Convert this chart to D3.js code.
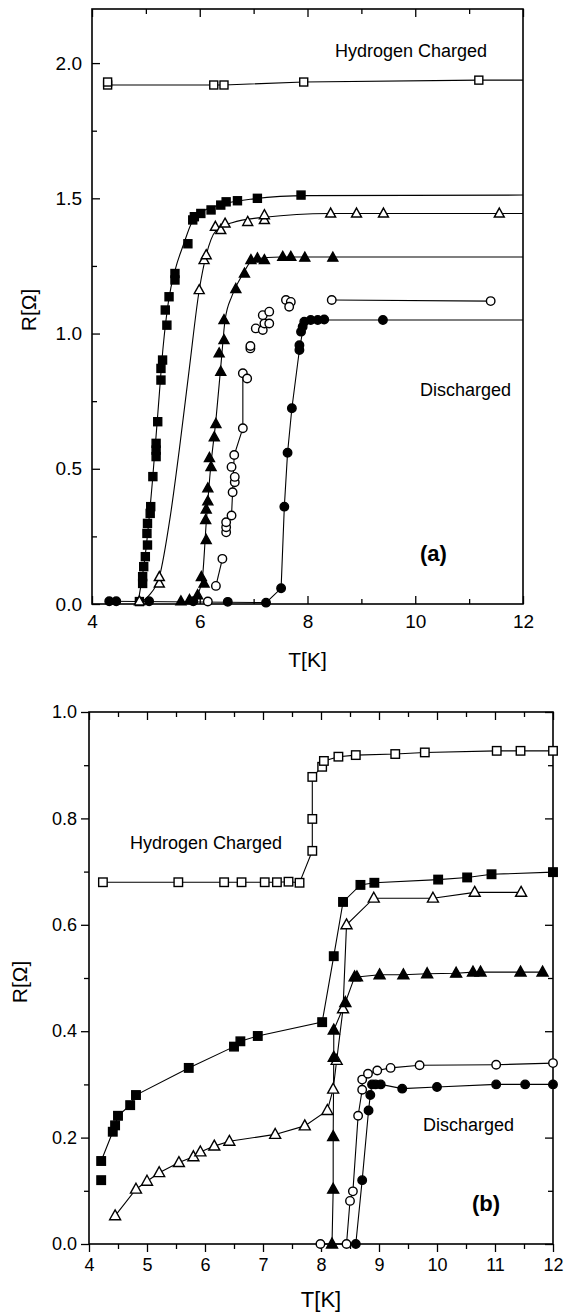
<!DOCTYPE html>
<html><head><meta charset="utf-8">
<script src="https://cdn.jsdelivr.net/npm/d3@7"></script>
<style>body{margin:0;background:#fff} svg{display:block} text{font-family:"Liberation Sans",Arial,sans-serif;fill:#000}</style>
</head><body><svg id="c" width="569" height="1315"></svg>
<script>
// ---------- Panel (a) data: [T (K), R (Ohm)] ----------
const aOpenSquares = [[4.29,1.919],[4.29,1.930],[6.26,1.919],[6.45,1.919],[7.93,1.930],[11.18,1.937]];
const aOpenSquaresLine = [[4.29,1.919],[6.26,1.919],[6.45,1.919],[7.93,1.930],[11.18,1.937],[12,1.937]];
const aFilledSquares = [[4.88,0.009],[4.94,0.076],[4.94,0.101],[4.96,0.138],[4.99,0.175],[5.03,0.218],[5.02,0.261],[5.03,0.298],[5.08,0.335],[5.09,0.360],[5.13,0.471],[5.19,0.545],[5.19,0.569],[5.19,0.594],[5.22,0.674],[5.28,0.828],[5.28,0.871],[5.31,0.902],[5.39,1.031],[5.36,1.087],[5.43,1.136],[5.54,1.198],[5.54,1.222],[5.78,1.332],[5.87,1.420],[5.90,1.432],[6.02,1.444],[6.21,1.457],[6.39,1.475],[6.49,1.487],[6.70,1.491],[7.07,1.500],[7.88,1.512]];
const aFilledSquaresLine = [[4.85,0],[5.0,0.2],[5.12,0.45],[5.22,0.7],[5.32,0.95],[5.42,1.12],[5.55,1.24],[5.7,1.33],[5.85,1.41],[6.0,1.445],[6.4,1.477],[7.0,1.498],[8,1.51],[12,1.512]];
const aOpenTriangles = [[4.88,0.010],[5.25,0.076],[5.25,0.100],[5.99,1.161],[6.08,1.272],[6.12,1.290],[6.29,1.395],[6.39,1.383],[6.47,1.407],[6.89,1.413],[7.20,1.420],[7.20,1.438],[8.43,1.444],[8.91,1.444],[9.41,1.444],[11.56,1.444]];
const aOpenTrianglesLine = [[4.85,0],[5.05,0.03],[5.25,0.1],[5.45,0.32],[5.62,0.57],[5.8,0.86],[5.99,1.16],[6.12,1.29],[6.3,1.38],[6.6,1.41],[7.2,1.43],[8.4,1.444],[12,1.444]];
const aFilledTriangles = [[5.65,0.010],[5.81,0.015],[5.96,0.033],[6.03,0.100],[6.08,0.076],[6.12,0.237],[6.11,0.311],[6.12,0.350],[6.15,0.380],[6.15,0.428],[6.21,0.507],[6.18,0.540],[6.27,0.617],[6.30,0.666],[6.39,0.859],[6.36,0.927],[6.45,0.976],[6.45,1.050],[6.67,1.165],[6.83,1.222],[6.95,1.272],[7.07,1.278],[7.20,1.272],[7.54,1.284],[7.69,1.284],[7.95,1.281],[8.47,1.281]];
const aFilledTrianglesLine = [[5.95,0.03],[6.05,0.1],[6.12,0.3],[6.2,0.5],[6.3,0.68],[6.4,0.9],[6.47,1.05],[6.6,1.14],[6.8,1.22],[7.0,1.275],[7.5,1.283],[12,1.283]];
const aOpenCircles = [[6.15,0.009],[6.30,0.067],[6.42,0.167],[6.49,0.265],[6.49,0.284],[6.49,0.302],[6.59,0.327],[6.61,0.413],[6.65,0.450],[6.65,0.470],[6.59,0.507],[6.64,0.551],[6.80,0.650],[6.80,0.853],[6.88,0.834],[6.94,0.945],[6.94,0.954],[7.04,1.019],[7.17,1.013],[7.20,1.037],[7.29,1.037],[7.17,1.068],[7.29,1.081],[7.60,1.124],[7.69,1.117],[7.66,1.099],[8.45,1.124],[11.40,1.120]];
const aOpenCirclesLine1 = [[6.30,0.067],[6.42,0.167]];
const aOpenCirclesLine2 = [[6.59,0.327],[6.64,0.551],[6.80,0.650],[6.80,0.853]];
const aOpenCirclesLine3 = [[8.45,1.124],[11.40,1.120]];
const aFilledCircles = [[4.32,0.010],[4.45,0.010],[5.06,0.010],[5.88,0.010],[6.52,0.008],[7.23,0.005],[7.51,0.058],[7.57,0.360],[7.63,0.559],[7.71,0.724],[7.85,0.939],[7.85,0.957],[7.88,1.007],[7.91,1.025],[7.94,1.044],[8.06,1.050],[8.19,1.050],[8.31,1.052],[9.40,1.050]];
const aFilledCirclesLine = [[4.32,0.01],[7.23,0.005],[7.51,0.058],[7.57,0.36],[7.63,0.559],[7.71,0.724],[7.85,0.94],[7.94,1.044],[8.1,1.05],[9.4,1.05],[12,1.05]];

// ---------- Panel (b) data ----------
const bOpenSquares = [[4.24,0.680],[5.54,0.680],[6.33,0.680],[6.63,0.680],[7.03,0.680],[7.24,0.680],[7.44,0.681],[7.63,0.679],[7.85,0.739],[7.85,0.799],[7.85,0.878],[8.02,0.897],[8.05,0.908],[8.30,0.916],[8.60,0.919],[9.28,0.921],[9.79,0.924],[11.03,0.927],[11.44,0.927],[12.0,0.927]];
const bFilledSquares = [[4.21,0.156],[4.41,0.211],[4.45,0.223],[4.50,0.241],[4.71,0.261],[4.81,0.280],[5.72,0.331],[6.50,0.371],[6.61,0.381],[6.91,0.391],[8.02,0.417],[8.22,0.541],[8.38,0.643],[8.68,0.675],[8.92,0.679],[10.02,0.685],[10.52,0.689],[10.94,0.695],[12.0,0.699]];
const bFilledSquaresLoose = [[4.21,0.120]];
const bOpenTriangles = [[4.45,0.053],[4.81,0.103],[5.00,0.118],[5.21,0.134],[5.55,0.153],[5.80,0.164],[5.92,0.173],[6.16,0.184],[6.42,0.193],[7.21,0.206],[7.72,0.222],[8.11,0.251],[8.21,0.291],[8.27,0.345],[8.38,0.442],[8.44,0.600],[8.91,0.650],[9.93,0.650],[10.65,0.661],[11.45,0.661]];
const bFilledTriangles = [[8.19,0.000],[8.21,0.103],[8.21,0.202],[8.22,0.351],[8.22,0.402],[8.42,0.454],[8.58,0.502],[8.62,0.502],[9.01,0.506],[9.42,0.506],[9.83,0.508],[10.33,0.509],[10.62,0.511],[10.75,0.511],[11.44,0.511],[11.82,0.511]];
const bOpenCircles = [[7.99,0.000],[8.44,0.000],[8.50,0.081],[8.55,0.099],[8.64,0.241],[8.71,0.290],[8.71,0.309],[8.81,0.320],[8.97,0.326],[9.20,0.331],[9.70,0.336],[11.02,0.337],[12.0,0.340]];
const bFilledCircles = [[8.60,0.000],[8.71,0.120],[8.82,0.251],[8.85,0.280],[8.88,0.300],[8.94,0.300],[9.03,0.300],[9.40,0.292],[10.00,0.295],[11.02,0.300],[11.52,0.300],[12.0,0.300]];

// ---------- ticks ----------
const aXMajor = [4,6,8,10,12], aXMinor = [5,7,9,11];
const aYMajor = [0,0.5,1.0,1.5,2.0], aYMinor = [0.25,0.75,1.25,1.75];
const bXMajor = [4,5,6,7,8,9,10,11,12], bXMinor = [4.5,5.5,6.5,7.5,8.5,9.5,10.5,11.5];
const bYMajor = [0,0.2,0.4,0.6,0.8,1.0], bYMinor = [0.1,0.3,0.5,0.7,0.9];

const svg = d3.select("#c");

function drawMarkers(g, pts, type, filled, x, y, s) {
  const fill = filled ? "#000" : "#fff";
  const sel = g.append("g").selectAll("path").data(pts).enter();
  if (type === "square") {
    sel.append("rect").attr("x", d => x(d[0]) - s/2).attr("y", d => y(d[1]) - s/2)
      .attr("width", s).attr("height", s).attr("fill", fill).attr("stroke", "#000").attr("stroke-width", 1.4);
  } else if (type === "circle") {
    sel.append("circle").attr("cx", d => x(d[0])).attr("cy", d => y(d[1])).attr("r", s/2)
      .attr("fill", fill).attr("stroke", "#000").attr("stroke-width", 1.4);
  } else {
    const h = s * 0.9;
    sel.append("path").attr("d", d => {
      const cx = x(d[0]), cy = y(d[1]);
      return `M${cx},${cy - h*0.6}L${cx + s/2},${cy + h*0.4}L${cx - s/2},${cy + h*0.4}Z`;
    }).attr("fill", fill).attr("stroke", "#000").attr("stroke-width", 1.4).attr("stroke-linejoin", "miter");
  }
}
function drawLine(g, pts, x, y, curve) {
  g.append("path").datum(pts)
    .attr("d", d3.line().x(d => x(d[0])).y(d => y(d[1])).curve(curve || d3.curveLinear))
    .attr("fill", "none").attr("stroke", "#000").attr("stroke-width", 1.1);
}
function styleAxis(g, size) {
  g.select(".domain").remove();
  g.selectAll("line").attr("stroke", "#000").attr("stroke-width", 1.3);
  g.selectAll("text").attr("font-family", '"Liberation Sans",Arial,sans-serif').attr("font-size", size).attr("fill", "#000");
  g.attr("font-family", null).attr("font-size", null);
}

// ===================== Panel (a) =====================
{
  const x = d3.scaleLinear([4, 12], [92, 523]);
  const y = d3.scaleLinear([0, 2.2], [604, 9]);
  const g = svg.append("g");
  const fs = 19;
  const gb = g.append("g").attr("transform", `translate(0,${y(0)})`);
  gb.call(d3.axisBottom(x).tickValues(aXMajor).tickSizeInner(-8).tickSizeOuter(0).tickPadding(11).tickFormat(d3.format("d")));
  styleAxis(gb, fs);
  const gbm = g.append("g").attr("transform", `translate(0,${y(0)})`);
  gbm.call(d3.axisBottom(x).tickValues(aXMinor).tickSizeInner(-5).tickSizeOuter(0).tickFormat(""));
  styleAxis(gbm, fs);
  const gt = g.append("g").attr("transform", `translate(0,${y(2.2)})`);
  gt.call(d3.axisTop(x).tickValues(aXMajor).tickSizeInner(-8).tickSizeOuter(0).tickFormat(""));
  styleAxis(gt, fs);
  const gtm = g.append("g").attr("transform", `translate(0,${y(2.2)})`);
  gtm.call(d3.axisTop(x).tickValues(aXMinor).tickSizeInner(-5).tickSizeOuter(0).tickFormat(""));
  styleAxis(gtm, fs);
  const gl = g.append("g").attr("transform", `translate(${x(4)},0)`);
  gl.call(d3.axisLeft(y).tickValues(aYMajor).tickSizeInner(-8).tickSizeOuter(0).tickPadding(10).tickFormat(d3.format(".1f")));
  styleAxis(gl, fs);
  const glm = g.append("g").attr("transform", `translate(${x(4)},0)`);
  glm.call(d3.axisLeft(y).tickValues(aYMinor).tickSizeInner(-5).tickSizeOuter(0).tickFormat(""));
  styleAxis(glm, fs);
  g.append("rect").attr("x", x(4)).attr("y", y(2.2)).attr("width", x(12) - x(4)).attr("height", y(0) - y(2.2))
    .attr("fill", "none").attr("stroke", "#000").attr("stroke-width", 1.6);

  drawLine(g, aOpenSquaresLine, x, y);
  drawLine(g, aFilledSquaresLine, x, y, d3.curveMonotoneX);
  drawLine(g, aOpenTrianglesLine, x, y, d3.curveMonotoneX);
  drawLine(g, aFilledTrianglesLine, x, y, d3.curveMonotoneX);
  drawLine(g, aOpenCirclesLine1, x, y);
  drawLine(g, aOpenCirclesLine2, x, y);
  drawLine(g, aOpenCirclesLine3, x, y);
  drawLine(g, aFilledCirclesLine, x, y);

  drawMarkers(g, aOpenSquares, "square", false, x, y, 8);
  drawMarkers(g, aFilledSquares, "square", true, x, y, 8);
  drawMarkers(g, aOpenTriangles, "triangle", false, x, y, 10);
  drawMarkers(g, aFilledTriangles, "triangle", true, x, y, 10);
  drawMarkers(g, aOpenCircles, "circle", false, x, y, 8.5);
  drawMarkers(g, aFilledCircles, "circle", true, x, y, 8.5);

  g.append("text").attr("x", 335).attr("y", 57).attr("font-size", 18).text("Hydrogen Charged");
  g.append("text").attr("x", 420).attr("y", 396).attr("font-size", 18).text("Discharged");
  g.append("text").attr("x", 420).attr("y", 561).attr("font-size", 22).attr("font-weight", "bold").text("(a)");
  g.append("text").attr("x", (x(4) + x(12)) / 2).attr("y", 667).attr("font-size", 21).attr("text-anchor", "middle").text("T[K]");
  g.append("text").attr("transform", "translate(36,310) rotate(-90)").attr("font-size", 21).attr("text-anchor", "middle").text("R[Ω]");
}

// ===================== Panel (b) =====================
{
  const x = d3.scaleLinear([4, 12], [89, 553]);
  const y = d3.scaleLinear([0, 1], [1244, 712]);
  const g = svg.append("g");
  const fs = 18;
  const gb = g.append("g").attr("transform", `translate(0,${y(0)})`);
  gb.call(d3.axisBottom(x).tickValues(bXMajor).tickSizeInner(8).tickSizeOuter(0).tickPadding(6).tickFormat(d3.format("d")));
  styleAxis(gb, fs);
  const gbm = g.append("g").attr("transform", `translate(0,${y(0)})`);
  gbm.call(d3.axisBottom(x).tickValues(bXMinor).tickSizeInner(5).tickSizeOuter(0).tickFormat(""));
  styleAxis(gbm, fs);
  const gt = g.append("g").attr("transform", `translate(0,${y(1)})`);
  gt.call(d3.axisTop(x).tickValues(bXMajor).tickSizeInner(-8).tickSizeOuter(0).tickFormat(""));
  styleAxis(gt, fs);
  const gtm = g.append("g").attr("transform", `translate(0,${y(1)})`);
  gtm.call(d3.axisTop(x).tickValues(bXMinor).tickSizeInner(-5).tickSizeOuter(0).tickFormat(""));
  styleAxis(gtm, fs);
  const gl = g.append("g").attr("transform", `translate(${x(4)},0)`);
  gl.call(d3.axisLeft(y).tickValues(bYMajor).tickSizeInner(8).tickSizeOuter(0).tickPadding(4).tickFormat(d3.format(".1f")));
  styleAxis(gl, fs);
  const glm = g.append("g").attr("transform", `translate(${x(4)},0)`);
  glm.call(d3.axisLeft(y).tickValues(bYMinor).tickSizeInner(5).tickSizeOuter(0).tickFormat(""));
  styleAxis(glm, fs);
  const gr = g.append("g").attr("transform", `translate(${x(12)},0)`);
  gr.call(d3.axisRight(y).tickValues(bYMajor).tickSizeInner(-8).tickSizeOuter(0).tickFormat(""));
  styleAxis(gr, fs);
  const grm = g.append("g").attr("transform", `translate(${x(12)},0)`);
  grm.call(d3.axisRight(y).tickValues(bYMinor).tickSizeInner(-5).tickSizeOuter(0).tickFormat(""));
  styleAxis(grm, fs);
  g.append("rect").attr("x", x(4)).attr("y", y(1)).attr("width", x(12) - x(4)).attr("height", y(0) - y(1))
    .attr("fill", "none").attr("stroke", "#000").attr("stroke-width", 1.6);

  drawLine(g, bOpenSquares, x, y);
  drawLine(g, bFilledSquares, x, y);
  drawLine(g, bOpenTriangles, x, y);
  drawLine(g, bFilledTriangles, x, y);
  drawLine(g, bOpenCircles, x, y);
  drawLine(g, bFilledCircles, x, y);

  drawMarkers(g, bOpenSquares, "square", false, x, y, 8.5);
  drawMarkers(g, bFilledSquares, "square", true, x, y, 8.5);
  drawMarkers(g, bFilledSquaresLoose, "square", true, x, y, 8.5);
  drawMarkers(g, bOpenTriangles, "triangle", false, x, y, 11);
  drawMarkers(g, bFilledTriangles, "triangle", true, x, y, 11);
  drawMarkers(g, bOpenCircles, "circle", false, x, y, 8.5);
  drawMarkers(g, bFilledCircles, "circle", true, x, y, 8.5);

  g.append("text").attr("x", 130).attr("y", 849).attr("font-size", 18).text("Hydrogen Charged");
  g.append("text").attr("x", 423).attr("y", 1131).attr("font-size", 18).text("Discharged");
  g.append("text").attr("x", 472).attr("y", 1211).attr("font-size", 22).attr("font-weight", "bold").text("(b)");
  g.append("text").attr("x", (x(4) + x(12)) / 2).attr("y", 1307).attr("font-size", 22).attr("text-anchor", "middle").text("T[K]");
  g.append("text").attr("transform", "translate(27,982) rotate(-90)").attr("font-size", 21).attr("text-anchor", "middle").text("R[Ω]");
}
</script>
</body></html>
